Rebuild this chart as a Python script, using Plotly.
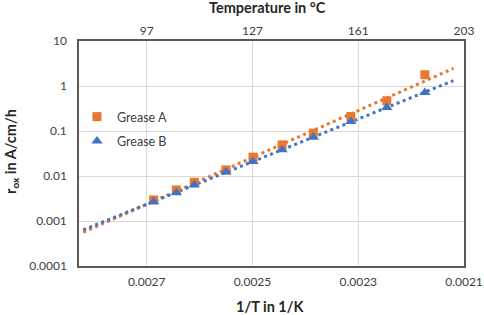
import numpy as np
import plotly.graph_objects as go

# Data
inv_T = [0.002687, 0.002644, 0.002610, 0.002550, 0.002499, 0.002444,
         0.002385, 0.002314, 0.002246, 0.002174]
grease_a = [0.00294, 0.0049, 0.00728, 0.01368, 0.0262, 0.0492, 0.0896,
            0.210, 0.469, 1.78]
grease_b = [0.00269, 0.00427, 0.00634, 0.01233, 0.0209, 0.0381, 0.0730,
            0.1626, 0.333, 0.718]
x_ticks = [0.0027, 0.0025, 0.0023, 0.0021]
x_ticktext = ["0.0027", "0.0025", "0.0023", "0.0021"]
temp_ticktext = ["97", "127", "161", "203"]
y_ticks = [0.0001, 0.001, 0.01, 0.1, 1, 10]
y_ticktext = ["0.0001", "0.001", "0.01", "0.1", "1", "10"]
trend_range = [0.00282, 0.00212]

ORANGE = "#E8772F"
BLUE = "#4472C4"
FONT = "Lato"
TITLE_COLOR = "#262626"


def exp_trend(x, y, xr):
    x = np.asarray(x)
    k, b = np.polyfit(x, np.log(np.asarray(y)), 1)
    xs = np.linspace(xr[0], xr[1], 60)
    return xs, np.exp(k * xs + b)


fig = go.Figure()
for ys, col in [(grease_a, ORANGE), (grease_b, BLUE)]:
    xs, yt = exp_trend(inv_T, ys, trend_range)
    fig.add_trace(go.Scatter(x=xs, y=yt, mode="lines", showlegend=False,
                             line=dict(color=col, width=3, dash="3px,3.5px"),
                             hoverinfo="skip"))

fig.add_trace(go.Scatter(x=inv_T, y=grease_a, mode="markers", name="Grease A",
                         legendgroup="a",
                         marker=dict(symbol="square", size=9, color=ORANGE)))
fig.add_trace(go.Scatter(x=inv_T, y=grease_b, mode="markers", name="Grease B",
                         legendgroup="b",
                         marker=dict(symbol="triangle-up", size=10, color=BLUE)))
# invisible trace so the top axis is drawn
fig.add_trace(go.Scatter(x=[x_ticks[0]], y=[1], xaxis="x2", mode="markers",
                         marker=dict(opacity=0, size=1), showlegend=False,
                         hoverinfo="skip"))

W, H = 484, 315
L, R, T, B = 79, 20, 41, 49
PW, PH = W - L - R, H - T - B


def px(xp):
    return (xp - L) / PW


def py(yp):
    return (H - B - yp) / PH


xr = [0.002828, 0.0021]
fig.update_layout(
    width=W, height=H,
    margin=dict(l=L, r=R, t=T, b=B),
    paper_bgcolor="white", plot_bgcolor="white",
    font=dict(family=FONT, size=12, color="#404040"),
    xaxis=dict(range=xr, tickvals=x_ticks, ticktext=x_ticktext,
               showgrid=True, gridcolor="#D9D9D9", gridwidth=1,
               showline=True, linecolor="#595959", linewidth=1.5, mirror=True,
               ticks="", zeroline=False, automargin=False, ticklabelstandoff=4),
    xaxis2=dict(range=xr, overlaying="x", side="top", tickvals=x_ticks,
                ticktext=temp_ticktext, showgrid=False, ticks="", zeroline=False,
                automargin=False, ticklabelstandoff=3),
    yaxis=dict(type="log", range=[-4, 1], tickvals=y_ticks, ticktext=y_ticktext,
               showgrid=True, gridcolor="#D9D9D9", gridwidth=1,
               showline=True, linecolor="#595959", linewidth=1.5, mirror=True,
               ticks="", zeroline=False, automargin=False, ticklabelstandoff=8),
    legend=dict(x=px(77), y=py(102), xanchor="left", yanchor="top",
                bgcolor="rgba(0,0,0,0)", font=dict(size=12.5, color="#404040"),
                itemwidth=30, traceorder="grouped", tracegroupgap=5),
    showlegend=True,
    shapes=[dict(type="rect", xref="paper", yref="paper",
                 x0=px(88), x1=px(168), y0=py(150), y1=py(106),
                 fillcolor="white", line=dict(width=0), layer="between")],
    annotations=[
        dict(text="<b>Temperature in °C</b>", xref="paper", yref="paper",
             x=px(267), y=py(8), xanchor="center", yanchor="middle",
             showarrow=False, font=dict(size=14.5, color=TITLE_COLOR)),
        dict(text="<b>1/T in 1/K</b>", xref="paper", yref="paper",
             x=px(270), y=py(306), xanchor="center", yanchor="middle",
             showarrow=False, font=dict(size=14.5, color=TITLE_COLOR)),
        dict(text="<b>r<sub>ox</sub> in A/cm/h</b>", xref="paper", yref="paper",
             x=px(11), y=py(152), xanchor="center", yanchor="middle",
             showarrow=False, textangle=-90,
             font=dict(size=14.5, color=TITLE_COLOR)),
    ],
)

fig.write_html("out.html",
               config={"displayModeBar": False},
               post_script="document.body.style.margin='0';"
                           "document.body.style.overflow='hidden';")
